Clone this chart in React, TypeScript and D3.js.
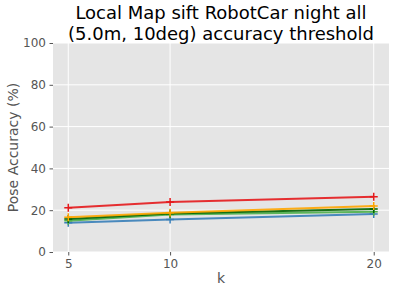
import React, { useEffect, useRef } from "react";
import * as d3 from "d3";

// k values along x
const kValues = [5, 10, 20];
const yTicks = [0, 20, 40, 60, 80, 100];

// pose accuracy per series (%)
const redSeries = [21.2, 23.9, 26.4];
const orangeSeries = [16.6, 18.8, 22.0];
const darkGreenSeries = [15.8, 18.4, 20.6];
const greenSeries = [15.0, 18.0, 19.2];
const blueSeries = [14.0, 15.6, 18.2];

const series = [
  { values: blueSeries, color: "#377eb8" },
  { values: greenSeries, color: "#4daf4a" },
  { values: darkGreenSeries, color: "#006400" },
  { values: orangeSeries, color: "#ffa500" },
  { values: redSeries, color: "#e41a1c" },
];

const W = 400;
const H = 288;
const margin = { top: 43, right: 11, bottom: 36, left: 53 };

export default function App() {
  const ref = useRef<SVGSVGElement>(null);

  useEffect(() => {
    const svg = d3.select(ref.current);
    svg.selectAll("*").remove();
    const innerW = W - margin.left - margin.right;
    const innerH = H - margin.top - margin.bottom;

    const x = d3.scaleLinear().domain([4.25, 20.75]).range([0, innerW]);
    const y = d3.scaleLinear().domain([0, 100]).range([innerH, 0]);

    const g = svg.append("g").attr("transform", `translate(${margin.left},${margin.top})`);

    g.append("rect").attr("width", innerW).attr("height", innerH).attr("fill", "#e5e5e5");

    // grid lines
    g.selectAll(".gx")
      .data(kValues)
      .enter()
      .append("line")
      .attr("x1", d => x(d))
      .attr("x2", d => x(d))
      .attr("y1", 0)
      .attr("y2", innerH)
      .attr("stroke", "white")
      .attr("stroke-width", 1);
    g.selectAll(".gy")
      .data(yTicks)
      .enter()
      .append("line")
      .attr("x1", 0)
      .attr("x2", innerW)
      .attr("y1", d => y(d))
      .attr("y2", d => y(d))
      .attr("stroke", "white")
      .attr("stroke-width", 1);

    const xAxis = d3.axisBottom(x).tickValues(kValues).tickSize(3.5).tickPadding(3.5);
    const yAxis = d3.axisLeft(y).tickValues(yTicks).tickSize(3.5).tickPadding(3.5);

    const xg = g.append("g").attr("transform", `translate(0,${innerH})`).call(xAxis);
    const yg = g.append("g").call(yAxis);
    [xg, yg].forEach(a => {
      a.select(".domain").remove();
      a.selectAll(".tick line").attr("stroke", "#555555");
      a.selectAll(".tick text")
        .attr("fill", "#555555")
        .attr("font-size", 12)
        .attr("font-family", "DejaVu Sans");
    });

    const line = d3
      .line<number>()
      .x((_, i) => x(kValues[i]))
      .y(d => y(d));

    series.forEach(s => {
      g.append("path")
        .datum(s.values)
        .attr("d", line)
        .attr("fill", "none")
        .attr("stroke", s.color)
        .attr("stroke-width", 2)
        .attr("stroke-opacity", 0.9);
      const m = 4;
      s.values.forEach((v, i) => {
        const cx = x(kValues[i]);
        const cy = y(v);
        g.append("path")
          .attr("d", `M${cx - m},${cy}H${cx + m}M${cx},${cy - m}V${cy + m}`)
          .attr("stroke", s.color)
          .attr("stroke-width", 1.5);
      });
    });

    // axis labels
    svg
      .append("text")
      .attr("x", margin.left + innerW / 2)
      .attr("y", H - 5)
      .attr("text-anchor", "middle")
      .attr("font-family", "DejaVu Sans")
      .attr("font-size", 14)
      .attr("fill", "#555555")
      .text("k");
    svg
      .append("text")
      .attr("transform", `translate(18,${margin.top + innerH / 2}) rotate(-90)`)
      .attr("text-anchor", "middle")
      .attr("font-family", "DejaVu Sans")
      .attr("font-size", 14)
      .attr("fill", "#555555")
      .text("Pose Accuracy (%)");

    const title = ["Local Map sift RobotCar night all", "(5.0m, 10deg) accuracy threshold"];
    title.forEach((t, i) => {
      svg
        .append("text")
        .attr("x", margin.left + innerW / 2)
        .attr("y", 19 + i * 21)
        .attr("text-anchor", "middle")
        .attr("font-family", "DejaVu Sans")
        .attr("font-size", 18)
        .attr("fill", "black")
        .text(t);
    });
  }, []);

  return (
    <div style={{ position: "absolute", left: 0, top: 0 }}>
      <svg ref={ref} width={W} height={H} style={{ display: "block", background: "white" }} />
    </div>
  );
}
